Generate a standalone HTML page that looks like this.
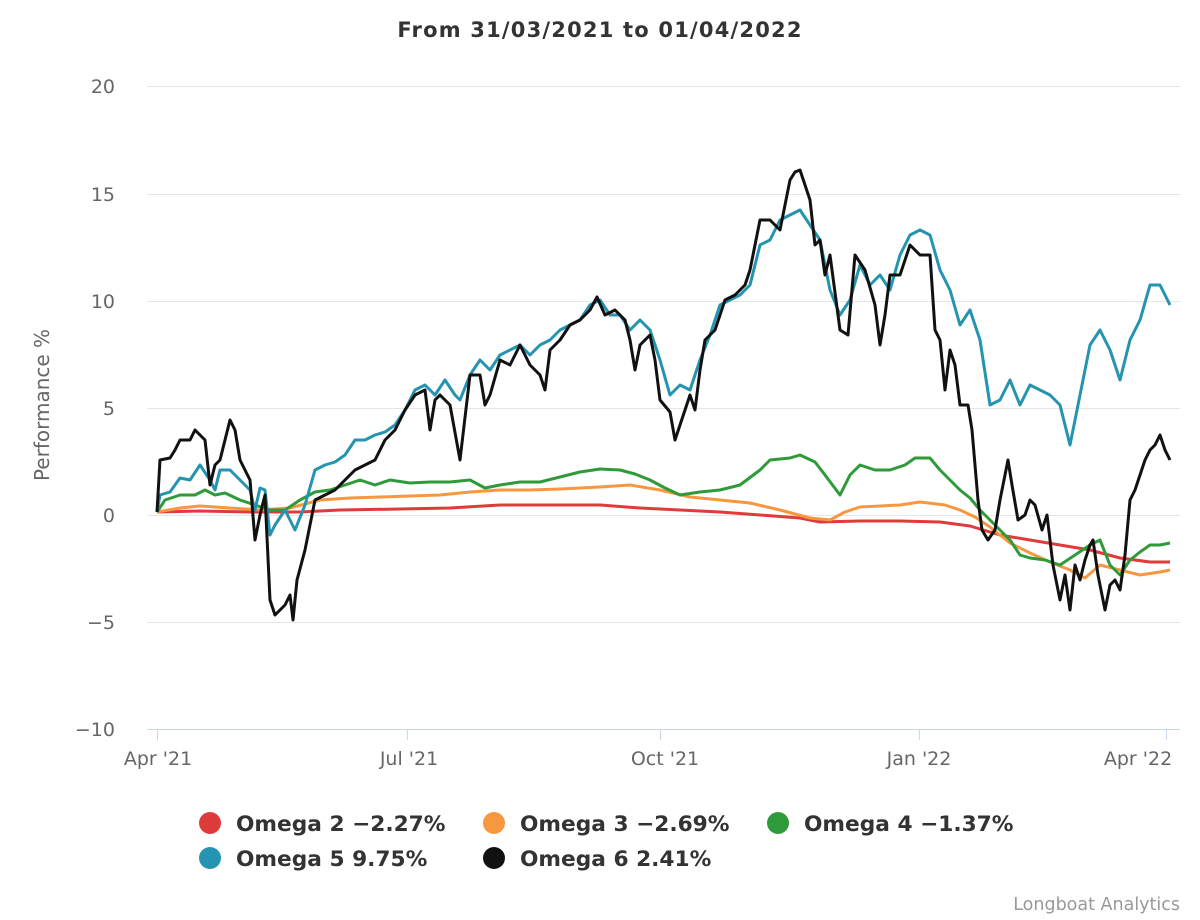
<!DOCTYPE html>
<html><head><meta charset="utf-8"><style>
html,body{margin:0;padding:0;background:#fff;}
svg{display:block;font-family:"DejaVu Sans","Liberation Sans",sans-serif;}
</style></head><body>
<svg width="1200" height="920" viewBox="0 0 1200 920">
<text x="600" y="37" text-anchor="middle" font-size="21" font-weight="bold" fill="#333" letter-spacing="1.2">From 31/03/2021 to 01/04/2022</text>
<g stroke="#e6e6e6" stroke-width="1">
<line x1="147" y1="86.5" x2="1180" y2="86.5"/>
<line x1="147" y1="194.5" x2="1180" y2="194.5"/>
<line x1="147" y1="301.5" x2="1180" y2="301.5"/>
<line x1="147" y1="408.5" x2="1180" y2="408.5"/>
<line x1="147" y1="515.5" x2="1180" y2="515.5"/>
<line x1="147" y1="622.5" x2="1180" y2="622.5"/>
</g>
<line x1="147" y1="729.5" x2="1180" y2="729.5" stroke="#ccd6eb"/>
<g stroke="#ccd6eb"><line x1="157.5" y1="729" x2="157.5" y2="740"/><line x1="407.5" y1="729" x2="407.5" y2="740"/><line x1="660.5" y1="729" x2="660.5" y2="740"/><line x1="919.5" y1="729" x2="919.5" y2="740"/><line x1="1166.5" y1="729" x2="1166.5" y2="740"/></g>
<g font-size="19" fill="#666" text-anchor="end">
<text x="115" y="93">20</text><text x="115" y="201">15</text><text x="115" y="308">10</text><text x="115" y="415">5</text><text x="115" y="522">0</text><text x="115" y="629">−5</text><text x="115" y="736">−10</text>
</g>
<g font-size="19" fill="#666" text-anchor="middle">
<text x="158" y="765">Apr '21</text><text x="409" y="765">Jul '21</text><text x="665" y="765">Oct '21</text><text x="919" y="765">Jan '22</text><text x="1138" y="765">Apr '22</text>
</g>
<text transform="translate(49,405) rotate(-90)" text-anchor="middle" font-size="20" fill="#666">Performance %</text>
<g fill="none" stroke-width="3" stroke-linejoin="round">
<polyline stroke="#e03b3b" points="157,512 200,511 250,512 300,512 340,510 400,509 450,508 500,505 550,505 600,505 640,508 680,510 720,512 760,515 800,518 820,522 860,521 900,521 940,522 970,526 1000,535 1030,540 1060,545 1090,550 1120,558 1150,562 1170,562"/>
<polyline stroke="#f7973f" points="157,512 180,508 200,506 230,508 260,510 290,508 320,500 350,498 380,497 410,496 440,495 470,492 500,490 530,490 560,489 600,487 630,485 660,490 690,497 720,500 750,503 780,510 810,518 830,520 845,512 860,507 880,506 900,505 920,502 945,505 960,510 975,517 990,527 1010,543 1030,553 1050,562 1070,570 1085,578 1100,565 1120,570 1140,575 1160,572 1170,570"/>
<polyline stroke="#2e9a3a" points="157,512 165,500 180,495 195,495 205,490 215,495 225,493 240,500 255,505 270,510 285,510 300,500 315,492 330,490 345,485 360,480 375,485 390,480 410,483 430,482 450,482 470,480 485,488 500,485 520,482 540,482 560,477 580,472 600,469 620,470 635,474 650,480 665,488 680,495 700,492 720,490 740,485 760,470 770,460 790,458 800,455 815,462 825,475 840,495 850,475 860,465 875,470 890,470 905,465 915,458 930,458 940,470 950,480 960,490 970,498 980,510 990,520 1000,530 1010,540 1020,555 1030,558 1045,560 1060,565 1075,555 1090,545 1100,540 1110,565 1120,575 1130,560 1140,552 1150,545 1160,545 1170,543"/>
<polyline stroke="#2494b0" points="157,512 160,495 170,492 180,478 190,480 200,465 210,480 215,490 220,470 230,470 240,480 250,490 255,510 260,488 265,490 270,535 275,525 285,510 295,530 305,505 315,470 325,465 335,462 345,455 355,440 365,440 375,435 385,432 395,425 405,410 415,390 425,385 435,395 445,380 455,395 460,400 470,375 480,360 490,370 500,355 510,350 520,345 530,355 540,345 550,340 560,330 570,325 580,320 590,305 600,300 610,315 620,315 630,330 640,320 650,330 660,360 670,395 680,385 690,390 700,360 710,335 720,305 730,300 740,295 750,285 760,245 770,240 780,220 790,215 800,210 810,225 820,240 830,290 840,315 850,300 860,265 870,285 880,275 890,290 900,255 910,235 920,230 930,235 940,270 950,290 960,325 970,310 980,340 990,405 1000,400 1010,380 1020,405 1030,385 1040,390 1050,395 1060,405 1070,445 1080,395 1090,345 1100,330 1110,350 1120,380 1130,340 1140,320 1150,285 1160,285 1170,305"/>
<polyline stroke="#111" points="157,512 160,460 170,458 175,450 180,440 190,440 195,430 200,435 205,440 210,485 215,465 220,460 225,440 230,420 235,430 240,460 250,480 255,540 260,515 265,495 270,600 275,615 285,605 290,595 293,620 297,580 305,550 315,500 325,495 335,490 345,480 355,470 365,465 375,460 385,440 395,430 405,410 415,395 425,390 430,430 435,400 440,395 450,405 460,460 470,375 480,375 485,405 490,395 500,360 510,365 520,345 530,365 540,375 545,390 550,350 560,340 570,325 580,320 590,310 597,297 605,315 615,310 625,320 630,340 635,370 640,345 650,335 655,360 660,400 670,412 675,440 680,425 690,395 695,410 700,370 705,340 715,330 725,300 735,295 745,285 750,270 760,220 770,220 780,230 790,180 795,172 800,170 810,200 815,245 820,240 825,275 830,255 840,330 848,335 855,255 865,270 875,305 880,345 885,315 890,275 900,275 910,245 920,255 930,255 935,330 940,340 945,390 950,350 955,365 960,405 968,405 972,430 978,500 982,530 988,540 995,530 1000,500 1008,460 1012,485 1018,520 1025,515 1030,500 1035,505 1042,530 1047,515 1053,565 1060,600 1065,575 1070,610 1075,565 1080,580 1085,560 1090,545 1093,540 1098,575 1105,610 1110,585 1115,580 1120,590 1125,555 1130,500 1135,490 1140,475 1145,460 1150,450 1155,445 1160,435 1165,450 1170,460"/>
</g>
<g font-size="21.7" font-weight="bold" fill="#333">
<circle cx="210" cy="823" r="11" fill="#e03b3b"/><text x="236" y="831">Omega 2 −2.27%</text>
<circle cx="494" cy="823" r="11" fill="#f7973f"/><text x="520" y="831">Omega 3 −2.69%</text>
<circle cx="778" cy="823" r="11" fill="#2e9a3a"/><text x="804" y="831">Omega 4 −1.37%</text>
<circle cx="210" cy="858" r="11" fill="#2494b0"/><text x="236" y="866">Omega 5 9.75%</text>
<circle cx="494" cy="858" r="11" fill="#111"/><text x="520" y="866">Omega 6 2.41%</text>
</g>
<text x="1180" y="910" text-anchor="end" font-size="17.5" fill="#999">Longboat Analytics</text>
</svg>
</body></html>
